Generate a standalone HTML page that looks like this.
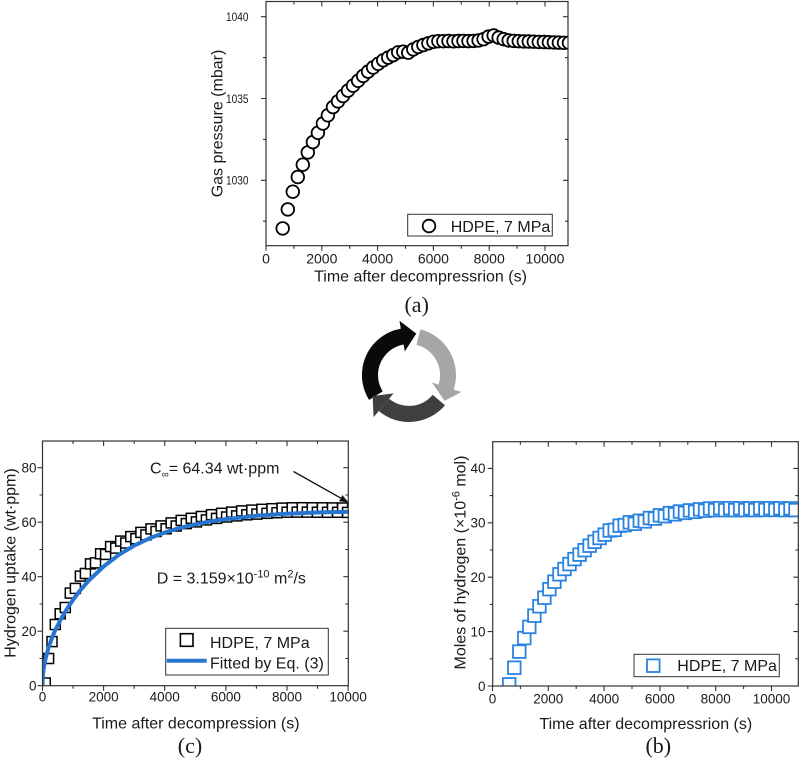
<!DOCTYPE html>
<html>
<head>
<meta charset="utf-8">
<style>
html,body{margin:0;padding:0;background:#fff;}
svg{display:block;}
.t{font-family:"Liberation Sans",Arial,sans-serif;fill:#1a1a1a;}
.s{font-family:"Liberation Serif","Times New Roman",serif;fill:#1a1a1a;}
</style>
</head>
<body>
<svg width="800" height="759" viewBox="0 0 800 759" xmlns="http://www.w3.org/2000/svg">
<defs>
  <clipPath id="ca"><rect x="266" y="1.5" width="302" height="244.2"/></clipPath>
  <clipPath id="cc"><rect x="42.5" y="441" width="305.8" height="244.7"/></clipPath>
  <clipPath id="cb"><rect x="492.7" y="441.7" width="305.6" height="244.3"/></clipPath>
  <marker id="mcir" markerUnits="userSpaceOnUse" markerWidth="18" markerHeight="18" refX="9" refY="9" overflow="visible">
    <circle cx="9" cy="9" r="6.3" fill="#fff" stroke="#000" stroke-width="1.8"/>
  </marker>
  <marker id="msqk" markerUnits="userSpaceOnUse" markerWidth="14" markerHeight="14" refX="7" refY="7" overflow="visible">
    <rect x="2" y="2" width="10" height="10" fill="#fff" stroke="#000" stroke-width="1.5"/>
  </marker>
  <marker id="msqb" markerUnits="userSpaceOnUse" markerWidth="16" markerHeight="16" refX="8" refY="8" overflow="visible">
    <rect x="1.7" y="1.7" width="12.6" height="12.6" fill="#fff" stroke="#2b83e0" stroke-width="1.8"/>
  </marker>
</defs>
<rect x="0" y="0" width="800" height="759" fill="#fff"/>

<!-- ================= Chart (a) ================= -->
<g clip-path="url(#ca)">
<polyline fill="none" stroke="none" marker-start="url(#mcir)" marker-mid="url(#mcir)" marker-end="url(#mcir)" points="282.7,228.4 287.8,209.4 292.8,191.7 297.8,177.0 302.8,164.7 307.8,152.4 312.9,142.1 317.9,132.8 322.9,123.5 327.9,115.3 333.0,107.1 338.0,101.4 343.0,96.0 348.0,90.6 353.0,85.7 358.1,80.8 363.1,75.9 368.1,71.6 373.1,67.5 378.2,63.8 383.2,60.3 388.2,57.6 393.2,55.1 398.2,52.3 403.3,51.7 408.3,52.7 413.3,49.4 418.3,46.9 423.4,45.0 428.4,43.3 433.4,41.8 438.4,41.2 443.4,41.2 448.5,41.0 453.5,41.3 458.5,41.0 463.5,40.9 468.5,41.1 473.6,40.9 478.6,40.4 483.6,39.2 488.6,36.6 493.7,35.5 498.7,37.6 503.7,39.2 508.7,40.4 513.7,40.9 518.8,41.2 523.8,41.4 528.8,41.5 533.8,41.7 538.8,41.9 543.9,42.0 548.9,42.2 553.9,42.4 558.9,42.6 564.0,42.8 569.0,42.8"/>
</g>
<rect x="266" y="1.5" width="302" height="244.2" fill="none" stroke="#333" stroke-width="1.2"/>
<path fill="none" stroke="#333" stroke-width="1.1" d="
M266,245.7v5 M321.8,245.7v5 M377.6,245.7v5 M433.4,245.7v5 M489.2,245.7v5 M545,245.7v5
M293.9,245.7v3 M349.7,245.7v3 M405.5,245.7v3 M461.3,245.7v3 M517.1,245.7v3
M321.8,1.5v5 M377.6,1.5v5 M433.4,1.5v5 M489.2,1.5v5 M545,1.5v5
M293.9,1.5v3 M349.7,1.5v3 M405.5,1.5v3 M461.3,1.5v3 M517.1,1.5v3
M266,180.3h-5 M266,98.5h-5 M266,16.7h-5 M266,221.2h-3 M266,139.4h-3 M266,57.6h-3
M568,180.3h-5 M568,98.5h-5 M568,16.7h-5 M568,221.2h-3 M568,139.4h-3 M568,57.6h-3"/>
<g class="t" font-size="12" text-anchor="end">
  <text x="248.5" y="184.6" textLength="22.5" lengthAdjust="spacingAndGlyphs">1030</text>
  <text x="248.5" y="102.8" textLength="22.5" lengthAdjust="spacingAndGlyphs">1035</text>
  <text x="248.5" y="21" textLength="22.5" lengthAdjust="spacingAndGlyphs">1040</text>
</g>
<g class="t" font-size="14" text-anchor="middle">
  <text x="266" y="263.5">0</text>
  <text x="321.8" y="263.5">2000</text>
  <text x="377.6" y="263.5">4000</text>
  <text x="433.4" y="263.5">6000</text>
  <text x="489.2" y="263.5">8000</text>
  <text x="545" y="263.5">10000</text>
</g>
<text class="t" font-size="16" text-anchor="middle" x="420.5" y="281.7">Time after decompressrion (s)</text>
<text class="t" font-size="16" text-anchor="middle" transform="translate(222.5,123.5) rotate(-90)">Gas pressure (mbar)</text>
<text class="s" font-size="22" text-anchor="middle" x="416.7" y="312">(a)</text>
<rect x="407.7" y="214.3" width="144.6" height="21.7" fill="#fff" stroke="#333" stroke-width="1"/>
<circle cx="429" cy="226" r="6.3" fill="#fff" stroke="#000" stroke-width="1.8"/>
<text class="t" font-size="16" x="450.7" y="231.8">HDPE, 7 MPa</text>

<!-- ================= Cycle arrows ================= -->
<path fill="#3f3f3f" d="M445,405.2 A47,47 0 0 1 378.8,411 L389.1,398.7 A31,31 0 0 0 432.7,394.9 Z"/>
<path fill="#a6a6a6" d="M420.4,329.4 A47,47 0 0 1 453.7,389.5 L461.3,392 L444.6,400.9 L431.8,382.4 L438.5,384.6 A31,31 0 0 0 416.5,344.9 Z"/>
<path fill="#0a0a0a" d="M369.1,399.9 A47,47 0 0 1 400.8,328.7 L399.5,320.8 L416.3,333.6 L404.8,351.4 L403.6,344.5 A31,31 0 0 0 382.7,391.4 Z"/>
<path fill="#3f3f3f" d="M378.8,411 L373.6,417.1 L372.6,396 L393.6,393.4 L389.1,398.7 Z"/>

<!-- ================= Chart (c) ================= -->
<g clip-path="url(#cc)">
<polyline fill="none" stroke="none" marker-start="url(#msqk)" marker-mid="url(#msqk)" marker-end="url(#msqk)" points="45.25,683.0 48.6,658.5 52.0,641.6 55.3,624.5 60.2,613.8 65.3,607.5 70.3,593.1 75.4,588.4 80.4,576.1 85.4,573.5 90.5,563.9 95.5,562.9 100.6,553.8 105.6,554.4 110.6,546.6 115.7,548.1 120.7,541.1 125.8,543.0 130.8,536.6 135.9,538.7 140.9,532.4 145.9,534.9 151.0,528.9 156.0,531.5 161.1,525.9 166.1,528.8 171.2,522.9 176.2,526.0 181.2,520.4 186.3,523.6 191.3,518.3 196.4,521.9 201.4,516.5 206.4,519.9 211.5,514.7 216.5,518.4 221.6,513.3 226.6,517.0 231.7,512.1 236.7,515.9 241.7,510.9 246.8,514.8 251.8,510.1 256.9,514.1 261.9,509.3 267.0,513.3 272.0,508.7 277.0,512.7 282.1,508.1 287.1,512.2 292.2,507.8 297.2,512.1 302.3,507.7 307.3,512.1 312.3,507.8 317.4,512.2 322.4,507.8 327.5,512.3 332.5,507.9 337.6,512.3 342.6,508.0 347.6,512.4"/>
<polyline fill="none" stroke="#2775d0" stroke-width="4" stroke-linejoin="round" stroke-linecap="round" points="42.5,685.7 42.65,679.7 42.8,677.1 43.1,673.5 44.0,666.5 45.6,658.5 48.6,647.3 51.7,638.7 54.7,631.4 60.8,619.2 67.0,608.9 73.1,599.8 79.2,591.6 88.3,581.1 103.6,566.5 118.9,554.8 134.2,545.6 149.5,538.3 164.7,532.5 180,527.8 195.3,524.3 210.6,521.4 225.9,519.1 256.4,515.8 287.0,513.8 317.5,512.5 348.1,511.7"/>
</g>
<rect x="42.5" y="441" width="305.8" height="244.7" fill="none" stroke="#333" stroke-width="1.2"/>
<path fill="none" stroke="#333" stroke-width="1.1" d="
M42.5,685.7v5 M103.6,685.7v5 M164.7,685.7v5 M225.9,685.7v5 M287,685.7v5 M348.1,685.7v5
M73.1,685.7v3 M134.2,685.7v3 M195.3,685.7v3 M256.4,685.7v3 M317.5,685.7v3
M103.6,441v5 M164.7,441v5 M225.9,441v5 M287,441v5
M73.1,441v3 M134.2,441v3 M195.3,441v3 M256.4,441v3 M317.5,441v3
M42.5,685.7h-5 M42.5,631.2h-5 M42.5,576.7h-5 M42.5,522.2h-5 M42.5,467.7h-5
M42.5,658.5h-3 M42.5,604h-3 M42.5,549.5h-3 M42.5,495h-3
M348.3,631.2h-5 M348.3,576.7h-5 M348.3,522.2h-5 M348.3,467.7h-5
M348.3,658.5h-3 M348.3,604h-3 M348.3,549.5h-3 M348.3,495h-3"/>
<g class="t" font-size="13.5" text-anchor="end">
  <text x="36.5" y="690.5">0</text>
  <text x="36.5" y="636">20</text>
  <text x="36.5" y="581.5">40</text>
  <text x="36.5" y="527">60</text>
  <text x="36.5" y="472.5">80</text>
</g>
<g class="t" font-size="13.5" text-anchor="middle">
  <text x="42.5" y="701.5">0</text>
  <text x="103.6" y="701.5">2000</text>
  <text x="164.7" y="701.5">4000</text>
  <text x="225.9" y="701.5">6000</text>
  <text x="287" y="701.5">8000</text>
  <text x="348.1" y="701.5">10000</text>
</g>
<text class="t" font-size="16" text-anchor="middle" x="195.8" y="728.3">Time after decompression (s)</text>
<text class="t" font-size="16" text-anchor="middle" transform="translate(15.5,563) rotate(-90)">Hydrogen uptake (wt·ppm)</text>
<text class="s" font-size="22" text-anchor="middle" x="190" y="753">(c)</text>
<text class="t" font-size="16" x="150" y="473.5">C<tspan font-size="10" dy="4">∞</tspan><tspan dy="-4">= 64.34 wt·ppm</tspan></text>
<line x1="293.5" y1="471.5" x2="340.7" y2="498.1" stroke="#111" stroke-width="1.3"/>
<polygon points="348.5,502.5 339.0,501.2 342.4,495.1" fill="#111"/>
<text class="t" font-size="16" x="156.7" y="583.3">D = 3.159×10<tspan font-size="11" dy="-6">-10</tspan><tspan dy="6"> m</tspan><tspan font-size="11" dy="-6">2</tspan><tspan dy="6">/s</tspan></text>
<rect x="165.7" y="628.3" width="162.6" height="46.7" fill="#fff" stroke="#333" stroke-width="1"/>
<rect x="180.4" y="633.7" width="12.6" height="12.6" fill="#fff" stroke="#000" stroke-width="1.6"/>
<line x1="166.7" y1="660.7" x2="206.7" y2="660.7" stroke="#2775d0" stroke-width="4"/>
<text class="t" font-size="16" x="210" y="648">HDPE, 7 MPa</text>
<text class="t" font-size="16" x="210" y="668.3">Fitted by Eq. (3)</text>

<!-- ================= Chart (b) ================= -->
<g clip-path="url(#cb)">
<polyline fill="none" stroke="none" marker-start="url(#msqb)" marker-mid="url(#msqb)" marker-end="url(#msqb)" points="509.2,684.4 514.3,667.7 519.3,651.6 524.3,638.1 529.3,626.9 534.4,615.7 539.4,606.3 544.4,597.7 549.4,589.2 554.4,581.7 559.5,574.3 564.5,569.0 569.5,564.1 574.5,559.1 579.6,554.6 584.6,550.2 589.6,545.7 594.6,541.8 599.6,538.0 604.7,534.6 609.7,530.5 614.7,529.9 619.7,525.7 624.7,525.1 629.8,522.3 634.8,523.8 639.8,520.7 644.8,521.4 649.9,518.0 654.9,518.6 659.9,515.3 664.9,516.2 669.9,513.1 675.0,514.3 680.0,511.5 685.0,512.9 690.0,510.4 695.1,511.8 700.1,509.3 705.1,510.7 710.1,508.5 715.1,510.2 720.2,508.2 725.2,510.2 730.2,508.2 735.2,510.2 740.2,508.3 745.3,510.1 750.3,508.3 755.3,510.1 760.3,508.2 765.4,510.0 770.4,508.2 775.4,510.0 780.4,508.3 785.4,510.1 790.5,508.4 795.5,510.1"/>
</g>
<rect x="492.7" y="441.7" width="305.6" height="244.3" fill="none" stroke="#333" stroke-width="1.2"/>
<path fill="none" stroke="#333" stroke-width="1.1" d="
M492.5,686v5 M548.3,686v5 M604.1,686v5 M659.9,686v5 M715.7,686v5 M771.5,686v5
M520.4,686v3 M576.2,686v3 M632,686v3 M687.8,686v3 M743.6,686v3
M548.3,441.7v5 M604.1,441.7v5 M659.9,441.7v5 M715.7,441.7v5 M771.5,441.7v5
M520.4,441.7v3 M576.2,441.7v3 M632,441.7v3 M687.8,441.7v3 M743.6,441.7v3
M492.7,686h-5 M492.7,631.6h-5 M492.7,577.2h-5 M492.7,522.8h-5 M492.7,468.4h-5
M492.7,658.8h-3 M492.7,604.4h-3 M492.7,550h-3 M492.7,495.6h-3
M798.3,631.6h-5 M798.3,577.2h-5 M798.3,522.8h-5 M798.3,468.4h-5
M798.3,658.8h-3 M798.3,604.4h-3 M798.3,550h-3 M798.3,495.6h-3"/>
<g class="t" font-size="13.5" text-anchor="end">
  <text x="485.5" y="690.8">0</text>
  <text x="485.5" y="636.4">10</text>
  <text x="485.5" y="582">20</text>
  <text x="485.5" y="527.6">30</text>
  <text x="485.5" y="473.2">40</text>
</g>
<g class="t" font-size="13.5" text-anchor="middle">
  <text x="492.5" y="703.3">0</text>
  <text x="548.3" y="703.3">2000</text>
  <text x="604.1" y="703.3">4000</text>
  <text x="659.9" y="703.3">6000</text>
  <text x="715.7" y="703.3">8000</text>
  <text x="771.5" y="703.3">10000</text>
</g>
<text class="t" font-size="16" text-anchor="middle" x="645.8" y="729">Time after decompressrion (s)</text>
<text class="t" font-size="16" text-anchor="middle" transform="translate(465.5,562.5) rotate(-90)">Moles of hydrogen (×10<tspan font-size="11" dy="-6">-6</tspan><tspan dy="6"> mol)</tspan></text>
<text class="s" font-size="22" text-anchor="middle" x="658.3" y="753">(b)</text>
<rect x="634" y="654.3" width="145.3" height="22.4" fill="#fff" stroke="#333" stroke-width="1"/>
<rect x="647" y="659.4" width="12.6" height="12.6" fill="#fff" stroke="#2b83e0" stroke-width="1.8"/>
<text class="t" font-size="16" x="677.3" y="671">HDPE, 7 MPa</text>
</svg>
</body>
</html>
